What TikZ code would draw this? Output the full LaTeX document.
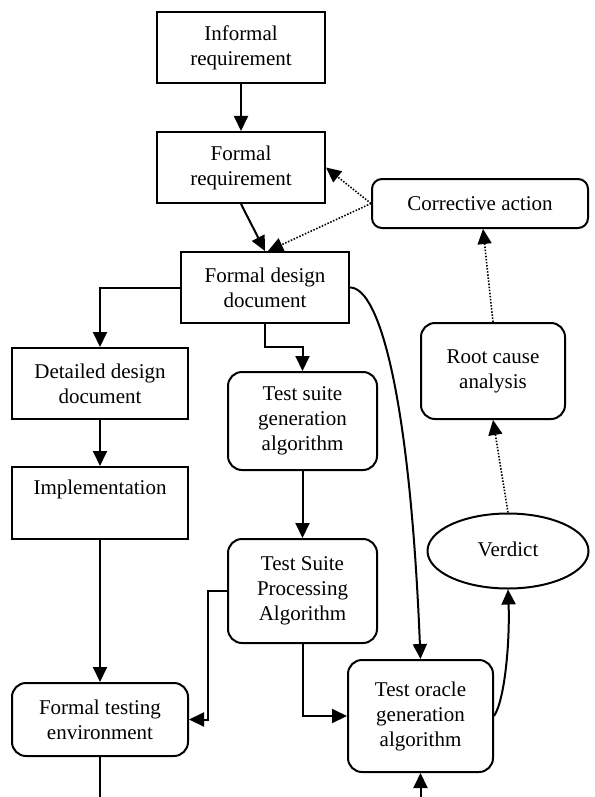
\documentclass[tikz,border=0pt]{standalone}
\usepackage{fontspec}
\setmainfont{Liberation Serif}
\usetikzlibrary{arrows.meta,shapes.geometric,calc}
\begin{document}
\begin{tikzpicture}[x=1pt,y=-1pt,
  every node/.style={font=\fontsize{21}{25}\selectfont, align=center, inner sep=0pt},
  sq/.style={draw, line width=2pt, minimum width=#1},
  rnd/.style={draw, line width=2pt, rounded corners=14pt, minimum width=#1},
  ell/.style={draw, line width=2pt, ellipse, minimum width=161pt, minimum height=75pt},
  conn/.style={line width=2pt, -{Triangle[length=15pt,width=14pt]}},
  plain/.style={line width=2pt},
  dotconn/.style={line width=1.6pt, dash pattern=on 1.5pt off 1.6pt, -{Triangle[length=15pt,width=14pt]}}
]
\useasboundingbox (0,0) rectangle (594,797);
% nodes
\node[sq=168pt, minimum height=71pt] (inf) at (241,47.5) {Informal\\requirement};
\node[sq=168pt, minimum height=71pt] (freq) at (241,167.5) {Formal\\requirement};
\node[sq=168pt, minimum height=71pt] (fdd) at (265,287.5) {Formal design\\document};
\node[rnd=216pt, minimum height=49pt, rounded corners=10pt] (ca) at (480,203.5) {Corrective action};
\node[rnd=144pt, minimum height=96pt] (rc) at (493,371) {\raisebox{6pt}{\begin{tabular}{@{}c@{}}Root cause\\analysis\end{tabular}}};
\node[ell] (v) at (508,551) {\raisebox{3pt}{Verdict}};
\node[sq=176pt, minimum height=71pt] (dd) at (100,383.5) {Detailed design\\document};
\node[sq=176pt, minimum height=72pt] (impl) at (100,503) {Implementation\\\strut};
\node[rnd=149pt, minimum height=98pt] (tsg) at (302.5,421) {Test suite\\generation\\algorithm};
\node[rnd=149pt, minimum height=104pt] (tsp) at (302.5,591) {Test Suite\\Processing\\Algorithm};
\node[rnd=145pt, minimum height=112pt] (too) at (420.5,716) {Test oracle\\generation\\algorithm};
\node[rnd=176pt, minimum height=73pt] (fte) at (100,719.5) {Formal testing\\environment};
\coordinate (bl) at (100,797);
\coordinate (br) at (420.5,797);
% connectors
\draw[conn] (inf) -- (freq);
\draw[conn] (freq.south) -- (fdd.north);
\draw[dotconn] (ca.west) -- (freq.east);
\draw[dotconn] (ca.west) -- ([xshift=3pt]fdd.north);
\draw[dotconn] (rc.north) -- ([xshift=3pt]ca.south);
\draw[dotconn] (v.north) -- (rc.south);
\draw[conn] (fdd.west) -| (dd.north);
\draw[conn] (dd) -- (impl);
\draw[conn] (impl) -- (fte);
\draw[plain] (fte) -- (bl);
\draw[conn] (fdd.south) -- (265,347) -| (tsg.north);
\draw[conn] (tsg) -- (tsp);
\draw[conn] (tsp.west) -- (208,591) |- (fte.east);
\draw[conn] (tsp.south) |- (too.west);
\draw[conn] (fdd.east) .. controls (380,287.5) and (410,400) .. (too.north);
\draw[conn] (too.east) .. controls (505,700) and (510,640) .. (v.south);
\draw[conn] (br) -- (too.south);
\end{tikzpicture}
\end{document}
